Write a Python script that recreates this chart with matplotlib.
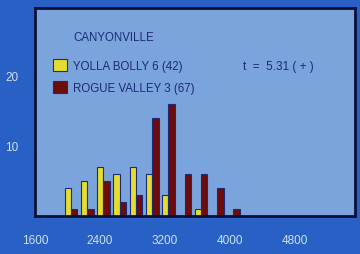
import matplotlib
matplotlib.use('Agg')
import numpy as np
import matplotlib.pyplot as plt
from matplotlib.patches import Patch

plt.rcParams['font.family'] = ['Liberation Sans', 'DejaVu Sans']

bins = [2000, 2200, 2400, 2600, 2800, 3000, 3200, 3400, 3600, 3800, 4000]
yolla = [4, 5, 7, 6, 7, 6, 3, 0, 1, 0, 0]
rogue = [1, 1, 5, 2, 3, 14, 16, 6, 6, 4, 1]
x_ticks = [1600, 2400, 3200, 4000, 4800]
y_ticks = [10, 20]

bg = '#2860c6'
panel = '#7ba4dc'
navy = '#1c2a78'
yellow = '#e4dc2e'
red = '#6e0b0b'

fig = plt.figure(figsize=(3.6, 2.55), dpi=100, facecolor=bg)
ax = fig.add_axes([0.097, 0.149, 0.889, 0.816])
ax.set_facecolor(panel)

x = np.array(bins)
w = 78
ax.bar(x + 5, yolla, width=w, color=yellow, edgecolor=navy, linewidth=0.8)
ax.bar(x + 83, rogue, width=w, color=red, edgecolor=navy, linewidth=0.8)

ax.set_xlim(1600, 5540)
ax.set_ylim(0, 29.7)
ax.set_xticks(x_ticks)
ax.set_yticks(y_ticks)
ax.tick_params(length=0, labelsize=8.5, colors='#cfe0f4')
ax.tick_params(axis='x', pad=13)
ax.tick_params(axis='y', pad=12)
for s in ax.spines.values():
    s.set_linewidth(2)
    s.set_color('#0a1035')

ax.text(0.119, 0.86, 'CANYONVILLE', transform=ax.transAxes, fontsize=8.3,
        color=navy, va='center', ha='left')
ax.text(0.65, 0.72, 't  =  5.31 ( + )', transform=ax.transAxes, fontsize=8.5,
        color=navy, va='center', ha='left')

handles = [Patch(facecolor=yellow, edgecolor=navy, linewidth=0.8),
           Patch(facecolor=red, edgecolor=navy, linewidth=0.8)]
ax.legend(handles, ['YOLLA BOLLY 6 (42)', 'ROGUE VALLEY 3 (67)'],
          loc='upper left', bbox_to_anchor=(0.056, 0.755), frameon=False,
          fontsize=8.3, labelcolor=navy, handlelength=1.2, handleheight=1.3,
          handletextpad=0.55, labelspacing=0.75, borderpad=0, borderaxespad=0)

fig.savefig('out.png', dpi=100, facecolor=bg)
